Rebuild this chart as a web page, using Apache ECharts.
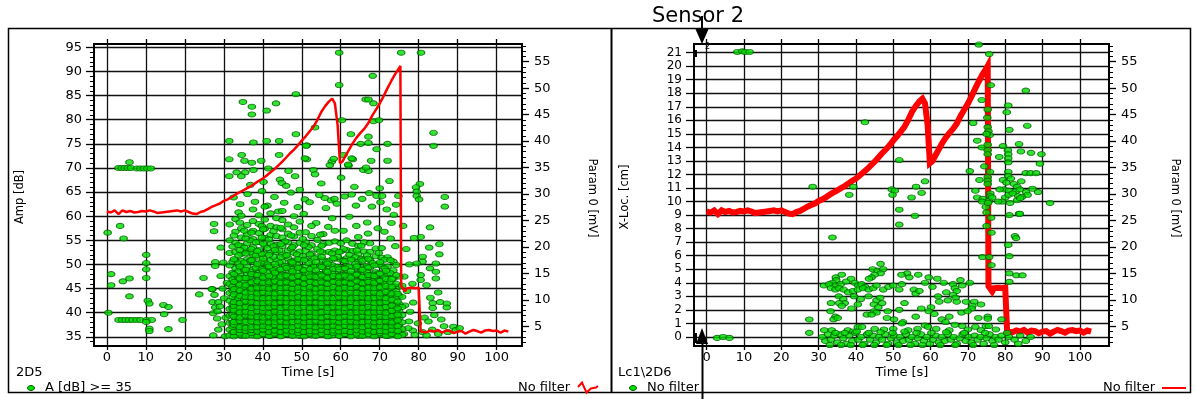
<!DOCTYPE html>
<html>
<head>
<meta charset="utf-8">
<script src="https://cdn.jsdelivr.net/npm/echarts@6/dist/echarts.min.js"></script>
<style>
  html, body { margin: 0; padding: 0; background: #fff; }
  #chart { width: 1196px; height: 399px; }
</style>
</head>
<body>
<div id="chart"></div>
<script>
// ---- tick labels ----
const timeTicks = [0, 10, 20, 30, 40, 50, 60, 70, 80, 90, 100];
const ampTicks = [35, 40, 45, 50, 55, 60, 65, 70, 75, 80, 85, 90, 95];
const paramTicks = [5, 10, 15, 20, 25, 30, 35, 40, 45, 50, 55];
const locTicks = [0, 1, 2, 3, 4, 5, 6, 7, 8, 9, 10, 11, 12, 13, 14, 15, 16, 17, 18, 19, 20, 21];

// ---- Param 0 [mV] over time ----
const paramTime = [0, 1, 2, 3, 4, 5, 6, 7, 8, 9, 10, 11, 12, 13, 14, 15, 16, 17, 18, 19, 20, 21, 22, 23, 24, 25, 26, 27, 28, 29,
  30, 31, 32, 33, 34, 35, 36, 37, 38, 39, 40, 41, 42, 43, 44, 45, 46, 47, 48, 49, 50, 51, 52, 53, 54, 55, 56, 57, 57.8, 58.5,
  59.2, 59.8, 60.5, 61, 62, 63, 64, 65, 66, 67, 68, 69, 70, 71, 72, 73, 74, 75, 75.3, 75.5, 76, 76.5, 77, 78, 79, 80, 80.4,
  80.5, 81, 82, 83, 84, 85, 86, 87, 88, 89, 90, 91, 92, 93, 94, 95, 96, 97, 98, 99, 100, 101, 102, 103];
const paramMv = [26.7, 26.5, 26.9, 26.2, 26.9, 26.6, 26.8, 26.5, 26.6, 26.8, 26.7, 26.9, 26.7, 26.4, 26.5, 26.6, 26.7, 26.8, 26.9, 26.7,
  26.9, 26.6, 26.3, 26.2, 26.6, 26.8, 27.2, 27.6, 27.9, 28.2, 28.7, 29.0, 29.4, 29.9, 30.3, 30.7, 31.1, 31.5, 32.0, 32.5,
  32.9, 33.5, 34.1, 34.7, 35.4, 36.1, 36.9, 37.7, 38.4, 39.2, 40.1, 40.9, 41.8, 42.7, 44.0, 45.5, 46.6, 47.5, 48.0, 47.1,
  43.0, 35.8, 36.2, 36.9, 38.2, 39.5, 40.6, 41.5, 42.3, 43.3, 44.7, 45.9, 47.1, 48.5, 50.0, 51.4, 52.7, 53.8, 54.2, 12.6,
  12.1, 11.6, 12.2, 12.3, 12.2, 12.3, 12.2, 4.0, 4.2, 3.9, 4.2, 4.0, 4.3, 3.8, 4.2, 4.1, 3.7, 4.0, 4.1, 3.6, 4.0, 4.3, 4.1,
  3.8, 4.2, 4.3, 4.1, 4.2, 3.8, 4.2, 4.0];

// ---- 2D5: Amp [dB] hits, scattered ones ----
const ampScattered = [
  [0.2, 56.6], [1.1, 48], [1.1, 45.7], [0.4, 40], [3.4, 58], [4.3, 55.4], [4.1, 46.5], [5.8, 47.1], [5.8, 43.4],
  [3.0, 38.5], [3.9, 38.5], [4.8, 38.5], [5.7, 38.5], [6.6, 38.5], [7.7, 38.5], [8.6, 38.5], [10.2, 38.5], [11.5, 38.5], [10.1, 38.1],
  [10.1, 52], [10.1, 50.3], [10.1, 49], [10.1, 47.2], [10.5, 42.5], [10.9, 41.9], [10.9, 36.7], [10.9, 36.2],
  [14.5, 41.6], [15.8, 41.2], [14.7, 39.7], [15.8, 36.6], [19.4, 38.5], [23.7, 43.8], [24.8, 47.2],
  [27.5, 58.4], [27.5, 56.9], [29.2, 53.5], [27.8, 50.5], [27.8, 49.7], [27.1, 44.9], [29.2, 47.6], [27.1, 42.2], [28.6, 42.2],
  [27.8, 41.1], [27.3, 39.9], [28.3, 38.8], [27.3, 35.3], [28.6, 36.5], [30.3, 35.1], [29.7, 45], [30.8, 46.2], [26.9, 44.9],
  [27.6, 43.7], [28.4, 40.3], [29.5, 37.6], [29.0, 41.3], [30.1, 43.0], [30.5, 39.0], [29.9, 50.4],
  [3.0, 70], [3.8, 70], [4.6, 70], [5.4, 70], [6.2, 70], [7.7, 69.9], [8.6, 69.9], [9.5, 69.9], [10.4, 69.9], [11.3, 69.9], [5.8, 71.2],
  [48.5, 85.3], [34.9, 83.7], [37.2, 82.7], [37.2, 81.1], [43.4, 83.4], [41, 81.9], [66.4, 84.2], [68.4, 83.4], [68.4, 79.7],
  [60.3, 79.9], [53.4, 78.4], [31.4, 75.6], [37.6, 75.3], [41, 75.6], [44.2, 75.6], [48.5, 77], [51.3, 74.7], [62.6, 77],
  [67.1, 76.5], [65.1, 75], [69.2, 73.9], [72, 75], [31.4, 71.8], [34.6, 72.7], [35.3, 71.5], [37.2, 71.1], [39.6, 71.5],
  [44.2, 72.7], [51.3, 71.8], [57.7, 71.3], [57.2, 70.6], [58.2, 71.9], [63.1, 71.8], [67.8, 71.5], [72, 71.5], [62, 70.5],
  [33.3, 69.1], [35.5, 69.1], [37.6, 69.6], [31.4, 68.3], [34.5, 68.3], [41.4, 69.9], [46.6, 69.4], [44.4, 67.6], [44.9, 66.9],
  [48.3, 68.3], [53, 69.6], [53.4, 68.7], [60.1, 68], [65.8, 69.6], [67.1, 69.4], [72.5, 67.3], [80.3, 66.7], [79.3, 66],
  [79.5, 65.1], [79.5, 64.2], [59.6, 93.9], [75.5, 93.9], [80.6, 93.9], [59.6, 87.2], [68.2, 89.1], [67.1, 84.2], [69.8, 79.9],
  [83.8, 77.3], [83.8, 74.6], [67.1, 75.2], [62.8, 72], [60.7, 72.7], [61.9, 70.7], [66.5, 70.1], [74.8, 64.2], [80.1, 63.5],
  [86.7, 64], [50.8, 72], [51.1, 74.6], [55.9, 63.8], [57.5, 63.3], [58.4, 63.6], [62.8, 64.5], [67.3, 64.8], [69.2, 64.2],
  [70.6, 64.2], [49.5, 65.5], [50.8, 63.5],
  [32.5, 63.9], [34.2, 62.5], [36.1, 64.6], [38.0, 63.0], [39.8, 65.2], [41.2, 62.2], [43.0, 64.0], [45.5, 62.8], [47.2, 64.9],
  [49.0, 61.9], [52.0, 62.9], [54.5, 64.4], [56.2, 61.7], [59.0, 62.6], [61.0, 64.1], [63.9, 62.2], [65.5, 63.6], [68.0, 62.0],
  [70.2, 62.9], [71.8, 61.4], [73.6, 60.3], [74.2, 62.4], [36.8, 66.5], [40.2, 67.1], [46.0, 66.3], [55.0, 66.8], [63.5, 66.1],
  [70.0, 65.8], [33.8, 60.8], [44.0, 61.0], [50.5, 60.5], [57.8, 59.6], [62.2, 59.9], [66.8, 58.7], [69.5, 57.5], [71.2, 56.8],
  [72.8, 55.4], [74.0, 53.8], [73.0, 58.6], [64.0, 58.0], [53.7, 58.6], [56.8, 57.8], [60.7, 57.0], [67.0, 56.4],
  [82.9, 57.7], [80.5, 55.7], [82.7, 53.5], [85.3, 54.2], [85.3, 52.1], [81, 51.6], [81, 50.6], [82.9, 49.2], [84.4, 50.2],
  [84.4, 48.5], [84.4, 47.1], [79.5, 50.2], [80.5, 47.8], [80.5, 46.8], [85, 44.2], [83, 43.1], [83.6, 42], [83.6, 41],
  [85.5, 42.2], [78.6, 42.1], [77.8, 40.2], [86.7, 62], [87.2, 41.9], [87.2, 41.1], [88.9, 37.1], [76.3, 47.5], [77.0, 44.5],
  [76.5, 41.5], [77.5, 38.2], [78.5, 36.3], [79.8, 37.8], [81.5, 39.0], [82.5, 38.2], [84.0, 39.5], [85.8, 38.6], [86.5, 37.2],
  [81.0, 36.0], [83.5, 36.5], [85.0, 35.6], [87.5, 36.0], [89.5, 36.4], [90.5, 36.8], [76.2, 35.6], [77.3, 36.8], [79.0, 35.4],
  [82.0, 35.3], [76.8, 53.2], [77.6, 50.0], [78.4, 46.0], [76.0, 58.0], [78.8, 55.5], [82.0, 45.7]
];

// ---- 2D5: the packed body of hits, one column of amplitudes per time ----
const bodyTimes = [31.5, 33, 34.5, 36, 37.5, 39, 40.5, 42, 43.5, 45, 46.5, 48, 49.5, 51, 52.5, 54, 55.5, 57, 58.5, 60,
  61.5, 63, 64.5, 66, 67.5, 69, 70.5, 72, 73.5, 75];
const bodyAmps = [
  "35.3 36.5 37.9 39.4 40.8 42.5 44.1 45.9 47.6 49.8 52.4 55.0 58.3",
  "35.6 36.6 37.6 38.7 39.7 40.8 41.8 42.9 44.0 45.1 46.3 47.6 49.2 50.9 52.6 54.5 56.8 59.4",
  "35.2 36.2 37.2 38.2 39.3 40.3 41.3 42.4 43.4 44.4 45.5 46.6 47.7 49.1 50.7 52.2 53.9 55.6 57.5 60.1",
  "35.5 36.5 37.5 38.5 39.6 40.6 41.6 42.7 43.7 44.7 45.8 46.9 48.1 49.6 51.1 52.8 54.4 56.3 58.2",
  "35.3 36.3 37.3 38.3 39.4 40.4 41.4 42.4 43.5 44.5 45.5 46.6 47.8 49.0 50.5 52.0 53.6 55.3 57.0 59.0 61.4",
  "35.6 36.6 37.6 38.7 39.7 40.7 41.7 42.8 43.8 44.8 45.9 47.0 48.3 49.8 51.4 53.0 54.7 56.5 58.4 60.2",
  "35.4 36.4 37.4 38.4 39.5 40.5 41.5 42.5 43.6 44.6 45.6 46.7 47.9 49.2 50.7 52.3 53.9 55.5 57.4 59.3 62.0",
  "35.2 36.2 37.2 38.3 39.3 40.3 41.3 42.4 43.4 44.4 45.5 46.6 47.8 49.3 50.9 52.5 54.3 56.1 58.0 60.6",
  "35.5 36.5 37.5 38.5 39.6 40.6 41.6 42.6 43.7 44.7 45.7 46.8 48.0 49.5 51.0 52.6 54.1 55.9 57.7 59.6",
  "35.3 36.3 37.3 38.4 39.4 40.4 41.4 42.5 43.5 44.5 45.6 46.7 47.9 49.1 50.6 52.1 53.8 55.6 57.3 59.2 61.1",
  "35.6 36.6 37.6 38.6 39.7 40.7 41.7 42.7 43.8 44.8 45.8 46.9 48.2 49.7 51.3 52.9 54.6 56.4 58.3",
  "35.4 36.4 37.4 38.4 39.5 40.5 41.5 42.5 43.6 44.6 45.6 46.7 47.9 49.2 50.8 52.4 54.0 55.8 57.7 60.0",
  "35.2 36.2 37.2 38.3 39.3 40.3 41.3 42.4 43.4 44.4 45.5 46.6 47.8 49.4 51.0 52.7 54.5 56.6 58.9",
  "35.5 36.5 37.5 38.5 39.6 40.6 41.6 42.6 43.7 44.7 45.7 46.8 48.1 49.6 51.2 52.8 54.6 56.7",
  "35.3 36.3 37.3 38.4 39.4 40.4 41.4 42.5 43.5 44.5 45.6 46.7 47.9 49.3 50.8 52.3 54.0 55.9 58.0",
  "35.6 36.6 37.6 38.6 39.7 40.7 41.7 42.7 43.8 44.8 45.8 46.9 48.2 49.8 51.5 53.2 55.1",
  "35.4 36.4 37.4 38.4 39.5 40.5 41.5 42.5 43.6 44.6 45.6 46.7 48.0 49.4 50.9 52.5 54.2 56.3",
  "35.2 36.2 37.2 38.3 39.3 40.3 41.3 42.4 43.4 44.4 45.5 46.6 47.8 49.2 50.8 52.6 54.5",
  "35.5 36.5 37.5 38.5 39.6 40.6 41.6 42.6 43.7 44.7 45.7 46.8 48.1 49.6 51.2 52.9 54.8 57.0",
  "35.3 36.3 37.3 38.4 39.4 40.4 41.4 42.5 43.5 44.5 45.6 46.7 47.9 49.4 51.0 52.7 54.4",
  "35.6 36.6 37.6 38.6 39.7 40.7 41.7 42.7 43.8 44.8 45.8 46.9 48.2 49.7 51.3 53.0 55.0",
  "35.4 36.4 37.4 38.4 39.5 40.5 41.5 42.5 43.6 44.6 45.6 46.7 48.0 49.5 51.1 52.8 54.3",
  "35.2 36.2 37.2 38.3 39.3 40.3 41.3 42.4 43.4 44.4 45.5 46.6 47.8 49.1 50.6 52.2 53.9 55.7",
  "35.5 36.5 37.5 38.5 39.6 40.6 41.6 42.6 43.7 44.7 45.7 46.8 48.1 49.6 51.2 52.7 54.6",
  "35.3 36.3 37.3 38.4 39.4 40.4 41.4 42.5 43.5 44.5 45.6 46.7 47.9 49.3 50.9 52.6 54.4",
  "35.6 36.6 37.6 38.6 39.7 40.7 41.7 42.7 43.8 44.8 45.8 47.0 48.4 50.0 51.7 53.3",
  "35.4 36.4 37.4 38.4 39.5 40.5 41.5 42.5 43.6 44.6 45.6 46.8 48.1 49.7 51.4 53.4",
  "35.2 36.2 37.2 38.3 39.3 40.3 41.3 42.4 43.4 44.4 45.5 46.7 48.0 49.6 51.5",
  "35.5 36.5 37.5 38.5 39.6 40.6 41.7 42.9 44.2 45.6 47.1 48.8 50.6",
  "35.3 36.4 37.6 38.9 40.3 41.8 43.5 45.4 47.5"
];
// hits falling between the columns above
const bodyTimesB = [32.25, 33.75, 35.25, 36.75, 38.25, 39.75, 41.25, 42.75, 44.25, 45.75, 47.25, 48.75, 50.25, 51.75, 53.25,
  54.75, 56.25, 57.75, 59.25, 60.75, 62.25, 63.75, 65.25, 66.75, 68.25, 69.75, 71.25, 72.75, 74.25, 75.75];
const bodyAmpsB = [
  "35.9 37.1 38.0 39.6 40.9 41.8 43.3 44.6 45.4 46.9 48.3 50.6 53.7",
  "35.4 36.0 37.3 38.9 39.5 40.2 41.9 43.0 44.3 45.1 46.0 47.3 48.6 50.2 51.9 54.0",
  "35.8 36.9 37.8 38.4 39.9 41.0 42.1 42.7 44.2 45.3 46.5 47.2 48.9 50.4 53.5 57.0",
  "35.3 36.1 37.7 38.9 39.2 40.8 41.5 42.9 43.8 45.0 46.2 47.5 48.5 50.8 52.5 55.0",
  "35.7 36.8 37.2 38.6 39.9 41.2 41.9 43.1 44.4 45.3 46.0 47.9 49.3 51.9 54.6",
  "35.4 36.3 37.9 38.5 39.4 40.9 42.0 43.4 44.1 45.6 46.4 47.6 49.0 50.3 52.2 55.6 58.0",
  "35.9 36.8 37.6 38.9 40.2 40.8 42.3 43.2 44.9 45.4 46.8 48.4 50.0 53.4",
  "35.5 36.2 37.1 38.7 39.5 41.0 41.7 42.8 44.0 45.2 46.1 47.4 48.8 51.6 53.8 56.9",
  "35.8 36.9 37.8 38.3 39.8 40.6 42.0 43.3 44.5 45.9 47.1 48.9 50.4 52.9",
  "35.4 36.1 37.5 38.8 40.0 41.3 42.2 43.1 44.3 45.6 46.5 47.8 49.7 51.8 54.8",
  "35.7 36.7 37.9 38.6 39.4 40.9 41.9 43.4 44.1 45.3 46.2 47.5 49.1 50.6 53.3 56.0",
  "35.3 36.4 37.3 38.9 39.8 40.7 41.6 42.9 44.6 45.7 46.9 48.5 50.0 52.1",
  "35.8 36.6 37.7 38.4 39.5 41.1 42.4 43.2 44.0 45.4 46.3 47.3 48.9 51.7 55.3",
  "35.5 36.2 37.4 38.8 40.1 40.9 41.8 43.0 44.5 45.8 46.7 48.2 50.3 53.6",
  "35.9 36.9 37.8 38.5 39.3 40.6 42.1 43.5 44.2 45.1 46.4 47.7 49.6 51.3",
  "35.4 36.3 37.2 38.7 39.9 41.2 42.0 42.8 44.4 45.6 46.9 48.0 49.8 52.7 56.2",
  "35.6 36.7 37.9 38.3 39.6 40.5 41.7 43.3 44.1 45.2 46.1 47.4 48.7 50.5",
  "35.3 36.1 37.4 38.9 39.7 41.0 42.3 43.1 44.7 45.9 46.6 48.3 49.9 52.3",
  "35.8 36.8 37.6 38.6 40.2 41.4 41.9 42.9 44.3 45.4 46.8 47.6 49.5 51.6",
  "35.5 36.4 37.3 38.4 39.5 40.7 42.2 43.6 44.0 45.7 46.4 47.9 49.2 50.8 53.2",
  "35.9 36.6 37.8 38.8 39.3 41.1 42.0 42.7 44.5 45.3 46.2 47.8 49.6 52.0",
  "35.4 36.2 37.1 38.5 39.9 40.6 41.6 43.2 44.2 45.8 46.7 48.1 50.1 51.5",
  "35.7 36.9 37.7 38.3 39.6 41.3 42.4 43.0 44.6 45.1 46.3 47.5 49.0 51.1 53.9",
  "35.3 36.5 37.5 38.9 40.1 40.8 41.8 43.4 44.1 45.5 46.9 48.4 49.7 51.9",
  "35.8 36.3 37.2 38.6 39.4 41.0 42.2 42.9 44.4 45.7 46.5 47.9 50.3",
  "35.5 36.7 37.9 38.4 39.8 40.5 41.7 43.5 44.0 45.2 46.7 48.2 50.0 52.4",
  "35.6 36.4 37.3 38.8 39.5 41.2 42.1 43.1 44.7 45.9 47.3 49.2 51.0",
  "35.3 36.8 37.8 38.5 40.0 40.9 42.5 43.7 45.1 46.4 48.2 50.9",
  "35.7 36.5 37.6 39.1 40.4 41.6 43.0 44.4 46.0 47.8 49.9",
  "35.4 36.6 38.0 39.5 41.2 43.3 45.6"
];
// the densest low-amplitude hits
const bodyTimesC = [32.6, 34.1, 35.6, 37.1, 38.6, 40.1, 41.6, 43.1, 44.6, 46.1, 47.6, 49.1, 50.6, 52.1, 53.6, 55.1, 56.6,
  58.1, 59.6, 61.1, 62.6, 64.1, 65.6, 67.1, 68.6, 70.1, 71.6, 73.1, 74.6];
const bodyAmpsC = [
  "35.1 36.0 37.5 38.1 39.2 40.5 41.4 42.2 43.8 44.9 46.4 48.0 51.1 56.0",
  "35.7 36.4 37.0 38.3 39.0 40.1 41.1 42.0 43.5 44.6 45.8 47.1 49.6 53.0 58.7",
  "35.2 36.2 36.9 38.1 39.4 40.2 41.2 42.3 43.3 44.2 45.7 47.2 48.9 52.3 55.4",
  "35.8 36.4 37.0 38.2 39.2 40.0 41.0 42.2 43.2 44.3 45.0 46.3 48.0 50.9 53.2 56.6",
  "35.1 36.1 37.1 38.0 39.1 40.3 41.2 42.0 43.1 44.0 45.2 46.5 47.8 50.1 52.8",
  "35.6 36.5 37.2 38.2 39.0 40.2 41.0 42.0 43.0 44.2 45.1 46.2 47.3 48.7 51.2 54.3 57.3",
  "35.2 36.0 37.0 38.0 39.2 40.0 41.1 42.1 43.0 44.1 45.0 46.3 47.6 49.6 52.0 55.2",
  "35.7 36.3 37.4 38.1 39.0 40.2 41.3 42.0 43.2 44.0 45.3 46.5 48.3 50.1 53.0",
  "35.1 36.0 37.1 38.2 39.2 40.1 41.0 42.2 43.1 44.2 45.1 46.2 47.5 49.0 51.5 54.2 57.6",
  "35.6 36.3 37.2 38.0 39.0 40.0 41.2 42.1 43.0 44.1 45.2 46.3 47.7 49.3 51.9",
  "35.2 36.1 37.0 38.1 39.1 40.2 41.1 42.0 43.1 44.0 45.0 46.0 47.3 48.6 50.4 53.6",
  "35.8 36.4 37.3 38.2 39.2 40.0 41.0 42.1 43.2 44.3 45.2 46.4 47.6 49.3 51.1",
  "35.1 36.0 37.1 38.0 39.0 40.1 41.2 42.0 43.0 44.1 45.1 46.0 47.2 48.8 50.9 54.0",
  "35.7 36.2 37.2 38.1 39.2 40.2 41.0 42.2 43.1 44.0 45.3 46.4 47.5 49.0 52.1",
  "35.2 36.1 37.0 38.2 39.1 40.0 41.1 42.1 43.2 44.2 45.0 46.1 47.4 48.8 50.5",
  "35.6 36.4 37.3 38.0 39.0 40.1 41.3 42.0 43.0 44.1 45.2 46.3 47.7 49.5 51.6 53.9",
  "35.1 36.0 37.1 38.1 39.2 40.2 41.0 42.2 43.1 44.0 45.1 46.0 47.2 48.5 50.2",
  "35.8 36.3 37.2 38.2 39.1 40.0 41.2 42.1 43.0 44.2 45.3 46.4 47.6 49.1 51.3",
  "35.2 36.1 37.0 38.0 39.0 40.1 41.1 42.0 43.2 44.1 45.0 46.2 47.5 49.0 52.6",
  "35.6 36.2 37.3 38.1 39.2 40.2 41.0 42.1 43.1 44.0 45.2 46.3 47.7 49.2 50.7",
  "35.1 36.0 37.1 38.2 39.1 40.0 41.2 42.2 43.0 44.2 45.1 46.0 47.3 48.6 51.0",
  "35.7 36.4 37.2 38.0 39.0 40.1 41.1 42.0 43.1 44.1 45.3 46.5 47.9 49.6 52.9",
  "35.2 36.1 37.0 38.1 39.2 40.2 41.0 42.1 43.2 44.0 45.0 46.1 47.4 48.9 50.8",
  "35.6 36.3 37.3 38.2 39.1 40.0 41.2 42.2 43.0 44.1 45.2 46.4 47.8 49.4 51.2",
  "35.1 36.0 37.1 38.0 39.0 40.1 41.1 42.0 43.1 44.2 45.1 46.2 47.6 49.8",
  "35.8 36.2 37.2 38.1 39.2 40.2 41.0 42.1 43.2 44.0 45.3 46.6 48.1 50.5",
  "35.2 36.1 37.0 38.2 39.1 40.0 41.2 42.2 43.0 44.3 45.5 47.0 48.7",
  "35.6 36.4 37.3 38.0 39.3 40.4 41.5 42.7 44.0 45.4 47.0",
  "35.1 36.2 37.2 38.4 39.6 40.9 42.3 43.9"
];

// ---- Lc1\2D6: X-Loc. [cm] of located events over time ----
const locPoints = [
  [8.2, 21.05], [9.5, 21.1], [10.3, 21.05], [11.5, 21.05], [2.8, -0.07], [4.4, 0], [6.1, -0.07], [27.5, 1.29], [27.5, 0.3], [33.7, 7.35],
  [42.4, 15.86], [28.4, 11.1], [38.2, 10.5], [39.3, 11.1], [49.6, 10.9], [50.4, 10.8], [49.8, 10.5], [51.6, 13.07],
  [56.1, 11.1], [58.5, 11.5], [57.6, 10.65], [54.9, 10.3], [55.8, 8.95], [51.6, 8.3], [51.6, 9.4],
  [72.9, 21.6], [75.7, 20.9], [76.1, 18.6], [85.5, 18.2], [73.7, 17.5], [75.3, 16.8], [80.8, 17.1], [80.4, 16.6], [71.4, 15.8],
  [75.3, 15.5], [75.5, 15.2], [75.8, 14.9], [81.1, 15.3], [85.9, 15.6], [72.5, 14.5], [73.7, 14.0], [75.3, 14.2], [75.3, 13.8],
  [79.4, 14.1], [80.7, 13.8], [83.7, 14.25], [84.2, 13.7], [86.9, 13.6], [89.7, 13.5], [75.3, 13.5], [78.4, 13.3], [80.8, 13.5],
  [80.8, 13.2], [80.8, 12.9], [89.3, 12.8], [74.4, 12.6], [70.5, 12.25], [75.9, 12.2], [80.8, 12.2], [80.8, 11.9], [85.5, 12.1],
  [86.8, 12.1], [88.3, 12.1], [75.3, 11.8], [75.3, 11.55], [75.3, 11.3], [73.1, 11.6], [79.4, 11.6], [80.3, 11.4], [81.5, 11.7],
  [82.3, 11.3], [83.2, 11.1], [84.3, 11.5], [79.7, 10.9], [81.0, 10.8], [82.8, 10.75], [83.9, 10.9], [72.0, 10.8], [76.0, 10.6],
  [78.5, 10.9], [80.0, 10.3], [80.9, 10.5], [82.0, 10.6], [83.5, 10.4], [84.5, 10.35], [85.6, 10.7], [86.0, 10.5], [87.3, 10.95],
  [88.8, 10.7], [72.5, 10.3], [74.0, 10.2], [76.0, 10.4], [73.8, 10.0], [75.6, 10.05], [76.5, 10.3], [92.0, 9.9], [79.2, 10.0],
  [81.3, 9.9], [83.2, 10.1], [84.0, 10.25], [75.0, 9.2], [81.1, 9.0], [83.7, 9.1], [76.3, 7.7], [82.6, 7.45], [82.9, 7.3],
  [80.8, 6.8], [81.1, 5.97], [73.9, 5.9], [75.7, 5.9], [76.3, 5.3], [81.1, 4.7], [83.0, 4.55], [84.6, 4.55], [81.1, 4.07],
  [83.9, 9.1], [74.8, 9.6], [75.4, 9.9], [78.1, 10.0], [76.2, 8.8], [75.0, 8.2], [75.2, 16.2], [75.0, 15.0],
  [46.6, 5.4], [44.5, 5.0], [45.8, 4.9], [47.3, 5.0], [46.6, 4.7], [45.0, 4.6], [44.2, 4.4], [43.5, 4.3], [53.7, 4.7], [52.2, 4.6],
  [54.3, 4.4], [56.7, 4.6], [34.6, 4.4], [36.2, 4.6], [34.7, 4.2], [33.7, 4.0], [34.4, 3.8], [35.9, 3.9], [37.4, 4.1], [38.7, 4.3],
  [39.7, 4.0], [40.6, 3.8], [41.5, 3.9], [42.5, 3.7], [31.4, 3.8], [32.8, 3.9], [33.3, 3.6], [34.5, 3.5], [35.5, 3.6], [36.7, 3.5],
  [37.9, 3.3], [39.2, 3.4], [40.5, 3.5], [41.9, 3.6], [43.4, 3.5], [44.6, 3.6], [45.5, 3.8], [47.3, 3.5], [48.7, 3.7], [50.0, 3.8],
  [51.6, 3.5], [52.3, 3.9], [55.5, 3.5], [56.0, 3.2], [57.0, 3.4], [58.5, 4.0], [63.5, 4.0], [66.0, 3.9], [66.5, 3.6], [68.5, 3.8],
  [67.0, 3.4], [66.0, 3.1], [66.7, 2.9], [64.2, 3.3], [60.5, 3.7], [61.8, 4.3], [70.5, 4.0], [68.0, 4.2], [59.5, 4.4],
  [35.4, 3.0], [36.6, 2.8], [39.5, 3.0], [41.3, 2.8], [43.4, 3.0], [45.5, 2.7], [46.5, 2.9], [37.0, 2.5], [33.3, 2.5], [35.5, 2.5],
  [36.2, 2.3], [38.8, 2.1], [40.5, 2.4], [44.8, 2.4], [46.0, 2.2], [53.0, 2.5], [62.0, 3.0], [62.3, 2.6], [64.6, 2.7], [67.0, 2.6],
  [69.5, 2.6], [71.7, 2.6], [71.2, 2.3], [71.0, 2.1], [60.1, 2.2], [59.5, 1.9], [51.6, 2.0], [48.5, 1.9], [44.8, 1.9], [45.5, 1.8],
  [33.2, 1.9], [34.5, 1.5], [34.0, 1.3], [35.1, 1.4], [48.3, 1.4], [50.2, 1.3], [52.6, 1.1], [52.3, 1.0], [63.0, 1.3], [64.0, 1.1],
  [65.0, 1.5], [72.8, 1.4], [75.3, 1.5], [75.3, 1.35], [79.0, 1.3], [42.9, 1.65], [44.2, 1.65], [61.0, 1.7], [57.5, 2.1],
  [68.3, 1.8], [69.9, 1.9], [73.5, 2.4], [56.0, 1.5], [47.0, 2.5],
  [40.5, 0.74], [41.6, 0.74], [58.5, 0.85], [59.3, 0.75], [68.5, 0.8], [72.0, 0.75], [74.8, 0.8], [75.6, 0.8], [37.8, 0.5],
  [39.2, 0.4], [33.5, 0.5], [45.0, 0.6], [47.5, 0.55], [50.0, 0.6], [54.0, 0.5], [56.5, 0.6], [61.5, 0.6], [65.0, 0.5],
  [70.0, 0.55], [73.5, 0.5], [77.5, 0.55], [66.5, 0.9],
  [31.0, 0.0], [31.8, -0.3], [32.5, 0.2], [33.3, -0.2], [34.2, 0.1], [35.0, -0.4], [35.8, 0.2], [36.6, -0.1], [37.4, -0.5],
  [38.2, 0.1], [39.0, -0.3], [39.8, 0.3], [40.6, -0.2], [41.4, 0.0], [42.2, -0.5], [43.0, 0.2], [43.8, -0.2], [44.6, 0.1],
  [45.4, -0.4], [46.2, 0.0], [47.0, -0.2], [47.8, 0.2], [48.6, -0.5], [49.4, -0.1], [50.2, 0.1], [51.0, -0.4], [51.8, 0.0],
  [52.6, -0.3], [53.4, 0.2], [54.2, -0.2], [55.0, 0.0], [55.8, -0.5], [56.6, -0.1], [57.4, 0.2], [58.2, -0.3], [59.0, 0.0],
  [59.8, -0.5], [60.6, -0.2], [61.4, 0.1], [62.2, -0.4], [63.0, 0.0], [63.8, -0.3], [64.6, 0.2], [65.4, -0.2], [66.2, 0.0],
  [67.0, -0.5], [67.8, -0.1], [68.6, 0.2], [69.4, -0.3], [70.2, 0.0], [71.0, -0.4], [71.8, 0.1], [72.6, -0.2], [73.4, 0.0],
  [74.2, -0.5], [75.0, -0.1], [75.8, 0.2], [76.6, -0.3], [77.4, 0.0], [78.2, -0.2], [79.0, 0.1], [80.0, -0.4], [81.0, 0.0],
  [82.5, -0.2], [84.0, 0.1], [85.5, -0.3], [86.8, 0.0],
  [31.5, 0.5], [33.0, -0.6], [34.5, 0.3], [36.0, -0.6], [37.0, 0.3], [38.6, -0.6], [40.2, 0.4], [41.8, -0.6], [43.4, 0.3],
  [44.9, -0.6], [46.6, 0.35], [48.2, -0.6], [49.8, 0.3], [51.4, -0.6], [53.0, 0.4], [54.6, -0.6], [56.2, 0.3], [57.8, -0.6],
  [60.2, 0.3], [62.6, -0.6], [64.2, 0.35], [66.6, -0.6], [69.0, 0.3], [71.4, -0.6], [74.6, 0.3], [77.0, -0.6], [80.5, 0.3], [83.5, -0.5]
];

// ---- assemble series data ----
const paramData = paramTime.map((t, i) => [t, paramMv[i]]);
const ampBody = [];
function addColumns(times, amps) {
  times.forEach((t, i) => {
    amps[i].split(' ').forEach(a => ampBody.push([t, Number(a)]));
  });
}
addColumns(bodyTimes, bodyAmps);
addColumns(bodyTimesB, bodyAmpsB);
addColumns(bodyTimesC, bodyAmpsC);
const ampData = ampScattered.concat(ampBody);

const FONT = 'DejaVu Sans, Verdana, sans-serif';
const minorRange = (a, b) => { const r = []; for (let v = a; v <= b; v++) r.push(v); return r; };

// Hit marker: small flat ellipse
const HIT = 'path://M0,5 A5,5 0 1,1 10,5 A5,5 0 1,1 0,5 Z';
const hitStyle = { color: '#00dd00', borderColor: '#005c00', borderWidth: 1 };

const gridLine = { color: '#111', width: 1.3 };
const blackTick = { color: '#000', width: 1.3 };

function xBottom(gridIndex, min, max) {
  return {
    type: 'value', gridIndex, min, max, position: 'bottom',
    axisLine: { show: true, onZero: false, lineStyle: { color: '#000', width: 2 } },
    axisTick: { show: true, customValues: timeTicks, length: 4, lineStyle: blackTick },
    axisLabel: { customValues: timeTicks, fontSize: 13, fontFamily: FONT, color: '#000', margin: 5 },
    splitLine: { show: true, lineStyle: gridLine }
  };
}
function xTop(gridIndex, min, max) {
  return {
    type: 'value', gridIndex, min, max, position: 'top',
    axisLine: { show: false, onZero: false },
    axisTick: { show: true, customValues: timeTicks, length: 5, lineStyle: blackTick },
    axisLabel: { show: false }, splitLine: { show: false }
  };
}
function yMajor(gridIndex, min, max, position, ticks, tickLen, split, size) {
  return {
    type: 'value', gridIndex, min, max, position,
    axisLine: { show: true, onZero: false, lineStyle: { color: '#000', width: 2 } },
    axisTick: { show: true, customValues: ticks, length: tickLen, lineStyle: blackTick },
    axisLabel: { customValues: ticks, fontSize: size, fontFamily: FONT, color: '#000', margin: 12 },
    splitLine: { show: split, lineStyle: gridLine }
  };
}
function yMinor(gridIndex, min, max, position, ticks) {
  return {
    type: 'value', gridIndex, min, max, position,
    axisLine: { show: false, onZero: false },
    axisTick: { show: true, customValues: ticks, length: 4, lineStyle: { color: '#000', width: 1 } },
    axisLabel: { show: false }, splitLine: { show: false }
  };
}

const AMP_MIN = 33.1, AMP_MAX = 95.7;
const MV_MIN = 1.28, MV_MAX = 58.34;
const LOC_MIN = -0.67, LOC_MAX = 21.64;
const T1_MIN = -3.3, T1_MAX = 106.5;
const T2_MIN = -3.4, T2_MAX = 107.8;

const txt = (x, y, text, size, extra, rotation) => ({
  type: 'text', x, y, silent: true, z: 50, rotation: rotation || 0,
  style: Object.assign({ text, fontSize: size, fontFamily: FONT, fill: '#000', align: 'left', verticalAlign: 'middle' }, extra || {})
});
const UP = Math.PI / 2, DOWN = -Math.PI / 2;

const option = {
  animation: false,
  backgroundColor: '#fff',
  grid: [
    { left: 94, top: 44, width: 428, height: 302, show: true, borderColor: '#000', borderWidth: 2, containLabel: false },
    { left: 694, top: 44, width: 415, height: 302, show: true, borderColor: '#000', borderWidth: 2, containLabel: false }
  ],
  xAxis: [
    xBottom(0, T1_MIN, T1_MAX), xTop(0, T1_MIN, T1_MAX),
    xBottom(1, T2_MIN, T2_MAX), xTop(1, T2_MIN, T2_MAX)
  ],
  yAxis: [
    yMajor(0, AMP_MIN, AMP_MAX, 'left', ampTicks, 8, true, 13),
    yMinor(0, AMP_MIN, AMP_MAX, 'left', minorRange(34, 95)),
    yMajor(0, MV_MIN, MV_MAX, 'right', paramTicks, 7, false, 13),
    yMinor(0, MV_MIN, MV_MAX, 'right', minorRange(2, 58)),
    yMajor(1, LOC_MIN, LOC_MAX, 'left', locTicks, 8, true, 12),
    yMajor(1, MV_MIN, MV_MAX, 'right', paramTicks, 7, false, 13),
    yMinor(1, MV_MIN, MV_MAX, 'right', minorRange(2, 58))
  ],
  series: [
    {
      name: 'A [dB] >= 35', type: 'scatter', xAxisIndex: 0, yAxisIndex: 0, data: ampData,
      symbol: HIT, symbolSize: [7.5, 5.2], itemStyle: hitStyle, z: 2, large: false, largeThreshold: 100000
    },
    {
      name: 'Param 0', type: 'line', xAxisIndex: 0, yAxisIndex: 2, data: paramData,
      showSymbol: false, symbol: 'none', lineStyle: { color: '#ff0000', width: 2.5 }, z: 3
    },
    {
      name: 'Param 0 (2D6)', type: 'line', xAxisIndex: 2, yAxisIndex: 5, data: paramData,
      showSymbol: false, symbol: 'none', lineStyle: { color: '#ff0000', width: 6, join: 'miter', cap: 'butt' }, z: 2
    },
    {
      name: 'No filter', type: 'scatter', xAxisIndex: 2, yAxisIndex: 4, data: locPoints,
      symbol: HIT, symbolSize: [7.5, 5.2], itemStyle: hitStyle, z: 3
    }
  ],
  graphic: [
    // panel frames
    { type: 'rect', silent: true, z: 40, shape: { x: 8.5, y: 28.5, width: 1182, height: 364 }, style: { fill: null, stroke: '#000', lineWidth: 1.5 } },
    { type: 'line', silent: true, z: 40, shape: { x1: 611.5, y1: 28, x2: 611.5, y2: 393 }, style: { stroke: '#000', lineWidth: 2 } },
    // title and sensor arrows
    txt(698, 17, 'Sensor 2', 21, { align: 'center' }),
    { type: 'line', silent: true, z: 60, shape: { x1: 702, y1: 16, x2: 702, y2: 30 }, style: { stroke: '#000', lineWidth: 2 } },
    { type: 'polygon', silent: true, z: 60, shape: { points: [[695, 28], [709, 28], [702, 44]] }, style: { fill: '#000' } },
    txt(705, 47, '2', 8),
    { type: 'rect', silent: true, z: 60, shape: { x: 695, y: 50, width: 2, height: 7 }, style: { fill: '#000' } },
    { type: 'polygon', silent: true, z: 60, shape: { points: [[702, 328], [696, 344], [708, 344]] }, style: { fill: '#000' } },
    { type: 'line', silent: true, z: 60, shape: { x1: 702.5, y1: 343, x2: 702.5, y2: 399 }, style: { stroke: '#000', lineWidth: 2 } },
    { type: 'rect', silent: true, z: 60, shape: { x: 695, y: 333, width: 2, height: 10 }, style: { fill: '#000' } },
    // axis names
    txt(20, 197, 'Amp [dB]', 11.5, { align: 'center' }, UP),
    txt(592, 198, 'Param 0 [mV]', 11.5, { align: 'center' }, DOWN),
    txt(625, 197, 'X-Loc. [cm]', 11.5, { align: 'center' }, UP),
    txt(1175, 198, 'Param 0 [mV]', 11.5, { align: 'center' }, DOWN),
    txt(308, 373, 'Time [s]', 13, { align: 'center' }),
    txt(902, 373, 'Time [s]', 13, { align: 'center' }),
    // panel captions and legends
    txt(16, 373, '2D5', 13),
    txt(618, 373, 'Lc1\\2D6', 13),
    { type: 'ellipse', silent: true, z: 50, shape: { cx: 31, cy: 388, rx: 3.5, ry: 2.5 }, style: { fill: '#00dd00', stroke: '#005c00', lineWidth: 1 } },
    txt(45, 388, 'A [dB] >= 35', 13),
    txt(518, 388, 'No filter', 13),
    { type: 'polyline', silent: true, z: 50, shape: { points: [[578, 387], [582, 382.5], [586.5, 392.5], [591, 388.5], [596, 387.5], [598, 386]] }, style: { stroke: '#ff0000', lineWidth: 2, fill: null } },
    { type: 'ellipse', silent: true, z: 50, shape: { cx: 633, cy: 388, rx: 3.5, ry: 2.5 }, style: { fill: '#00dd00', stroke: '#005c00', lineWidth: 1 } },
    txt(647, 388, 'No filter', 13),
    txt(1103, 388, 'No filter', 13),
    { type: 'line', silent: true, z: 50, shape: { x1: 1162, y1: 388, x2: 1186, y2: 388 }, style: { stroke: '#ff0000', lineWidth: 2 } }
  ]
};

const chart = echarts.init(document.getElementById('chart'), null, { renderer: 'canvas' });
chart.setOption(option);
</script>
</body>
</html>
